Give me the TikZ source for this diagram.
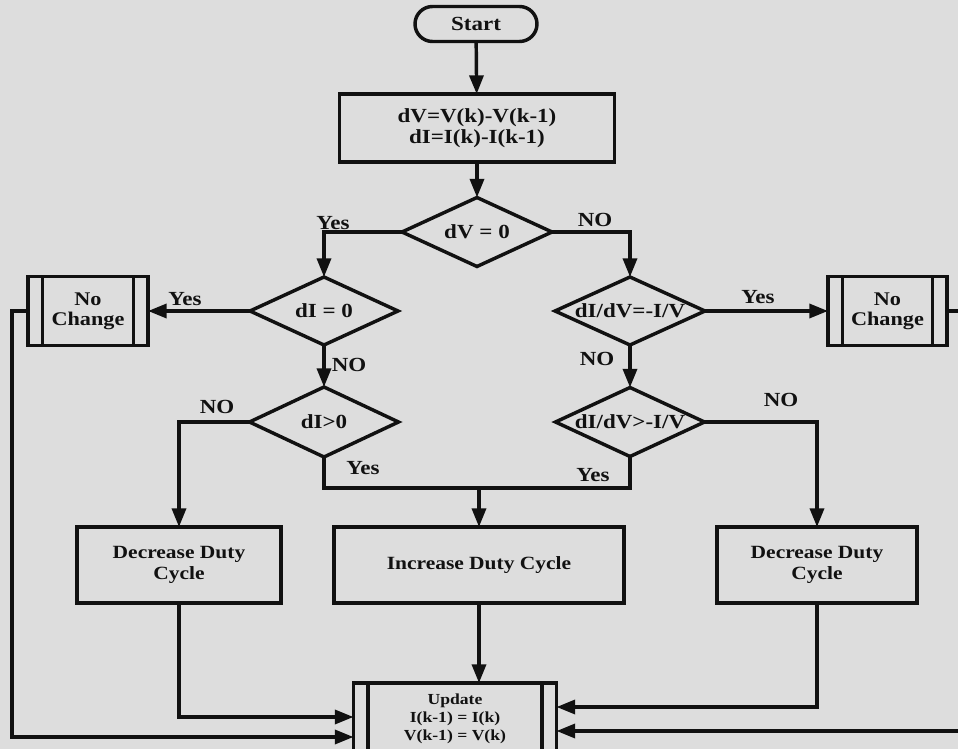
\documentclass[tikz,border=0pt]{standalone}
\usepackage{fontspec}
\setmainfont[FakeStretch=1.15]{Liberation Serif}
\usetikzlibrary{shapes.geometric,shapes.misc,arrows.meta}
\definecolor{bggray}{HTML}{DDDDDD}
\definecolor{ink}{HTML}{111111}
\tikzset{
  box/.style={draw=ink, line width=2.6pt, rectangle, inner sep=0pt, outer sep=0pt,
    align=center, text=ink, font=\bfseries\fontsize{14}{16}\selectfont},
  term/.style={box, rounded rectangle, font=\bfseries\fontsize{15}{16}\selectfont},
  decide/.style={box, diamond, aspect=2.2, font=\bfseries\fontsize{15}{16}\selectfont},
  subproc/.style={box, font=\bfseries\fontsize{14.5}{15}\selectfont},
  line/.style={draw=ink, line width=2.6pt},
  arr/.style={line, -{Triangle[length=14pt,width=10.5pt]}},
  lbl/.style={text=ink, inner sep=0pt, font=\bfseries\fontsize{15}{16}\selectfont}
}
\begin{document}
\begin{tikzpicture}[x=0.75pt, y=-0.75pt]
  % Background
  \fill[bggray] (0,0) rectangle (958,749);
  \useasboundingbox (0,0) rectangle (958,749);

  % Nodes
  \node[term, minimum width=91.5pt, minimum height=26.25pt] (start) at (476,24) {Start};
  \node[box, minimum width=206.25pt, minimum height=51pt,
        font=\bfseries\fontsize{15}{16}\selectfont] (calc) at (477,128)
        {dV=V(k)-V(k-1)\\dI=I(k)-I(k-1)};
  \node[decide, minimum width=112.5pt, minimum height=51.75pt] (dv) at (477,232) {dV = 0};
  \node[decide, minimum width=111pt, minimum height=51pt] (di0) at (324,311) {dI = 0};
  \node[decide, minimum width=112.5pt, minimum height=51pt] (didv) at (630,311) {dI/dV=-I/V};
  \node[decide, minimum width=111.75pt, minimum height=52.5pt] (dipos) at (324,422) {dI>0};
  \node[decide, minimum width=111.75pt, minimum height=51.75pt] (didvg) at (630,422) {dI/dV>-I/V};
  \node[subproc, minimum width=90pt, minimum height=51.75pt] (nc1) at (88,311) {No\\Change};
  \node[subproc, minimum width=89.25pt, minimum height=51.75pt] (nc2) at (887.5,311) {No\\Change};
  \node[box, minimum width=153pt, minimum height=57pt] (dec1) at (179,565) {Decrease Duty\\Cycle};
  \node[box, minimum width=217.5pt, minimum height=57pt] (inc) at (479,565) {Increase Duty Cycle};
  \node[box, minimum width=150pt, minimum height=57pt] (dec2) at (817,565) {Decrease Duty\\Cycle};
  \node[box, minimum width=152.25pt, minimum height=54pt,
        font=\bfseries\fontsize{11.5}{13.5}\selectfont] (upd) at (455,719)
        {Update\\I(k-1) = I(k)\\V(k-1) = V(k)};

  % Side bars of the sub-process boxes
  \foreach \n in {nc1,nc2,upd} {
    \draw[line] ([xshift=11pt]\n.north west) -- ([xshift=11pt]\n.south west);
    \draw[line] ([xshift=-11pt]\n.north east) -- ([xshift=-11pt]\n.south east);
  }

  % Main flow
  \draw[arr] (start) -- (calc);
  \draw[arr] (calc) -- (dv);
  \draw[arr] (dv.west) -| (di0.north);
  \draw[arr] (dv.east) -| (didv.north);
  \draw[arr] (di0.west) -- (nc1.east);
  \draw[arr] (didv.east) -- (nc2.west);
  \draw[arr] (di0.south) -- (dipos.north);
  \draw[arr] (didv.south) -- (didvg.north);
  \draw[arr] (dipos.west) -| (dec1.north);
  \draw[arr] (didvg.east) -| (dec2.north);

  % Yes branches join above the increase box
  \coordinate (merge) at (479,488);
  \draw[line] (dipos.south) |- (merge);
  \draw[line] (didvg.south) |- (merge);
  \draw[arr] (merge) -- (inc.north);

  % Back to update
  \draw[arr] (inc.south) -- (inc.south |- upd.north);
  \draw[arr] (dec1.south) |- ([yshift=1.5pt]upd.west);
  \draw[arr] (nc1.west) -- ++(-16,0) |- ([yshift=-13.5pt]upd.west);
  \draw[arr] (dec2.south) |- ([yshift=9pt]upd.east);
  \draw[arr] (nc2.east) -- ++(16,0) |- ([yshift=-9pt]upd.east);

  % Labels
  \node[lbl] at (333,223) {Yes};
  \node[lbl] at (595,220) {NO};
  \node[lbl] at (185,299) {Yes};
  \node[lbl] at (758,297) {Yes};
  \node[lbl] at (349,365) {NO};
  \node[lbl] at (597,359) {NO};
  \node[lbl] at (217,407) {NO};
  \node[lbl] at (781,400) {NO};
  \node[lbl] at (363,468) {Yes};
  \node[lbl] at (593,475) {Yes};
\end{tikzpicture}
\end{document}
